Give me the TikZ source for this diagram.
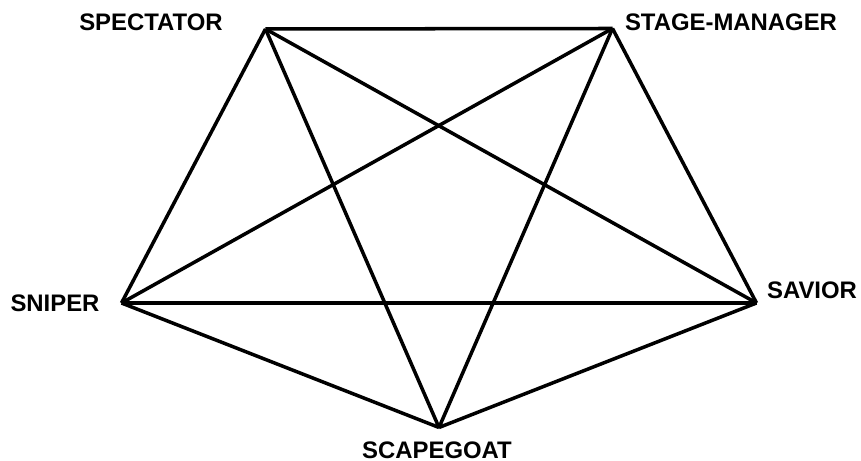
\documentclass[tikz,border=0pt]{standalone}
\usepackage{fontspec}
\setmainfont{Liberation Sans}
\usepackage{tikz}
\usetikzlibrary{positioning}
\definecolor{mydark}{RGB}{0,0,0}
\tikzset{
  rolelabel/.style={font=\bfseries\fontsize{13.6}{15}\selectfont, text=mydark,
    inner sep=0pt},
  edge/.style={line width=2pt, color=mydark, line join=round}
}

\begin{document}
\begin{tikzpicture}
  \useasboundingbox (0,0) rectangle (17.22,9.22);
  % Vertices of the pentagon
  \coordinate (spectator) at (5.31,8.64);
  \coordinate (stagemgr)  at (12.25,8.65);
  \coordinate (savior)    at (15.13,3.16);
  \coordinate (scapegoat) at (8.78,0.67);
  \coordinate (sniper)    at (2.43,3.16);

  % Roles
  \node[rolelabel] (lspectator) at (3.02,8.78)  {SPECTATOR};
  \node[rolelabel] (lstagemgr)  at (14.62,8.78) {STAGE-MANAGER};
  \node[rolelabel] (lsavior)    at (16.24,3.42) {SAVIOR};
  \node[rolelabel] (lscapegoat) at (8.74,0.22)  {SCAPEGOAT};
  \node[rolelabel] (lsniper)    at (1.10,3.16)  {SNIPER};

  % Every role linked to every other
  \foreach \a/\b in {spectator/stagemgr, spectator/savior, spectator/scapegoat,
                     spectator/sniper, stagemgr/savior, stagemgr/scapegoat,
                     stagemgr/sniper, savior/scapegoat, savior/sniper,
                     scapegoat/sniper} {
     \draw[edge] (\a) -- (\b);
  }
\end{tikzpicture}
\end{document}
